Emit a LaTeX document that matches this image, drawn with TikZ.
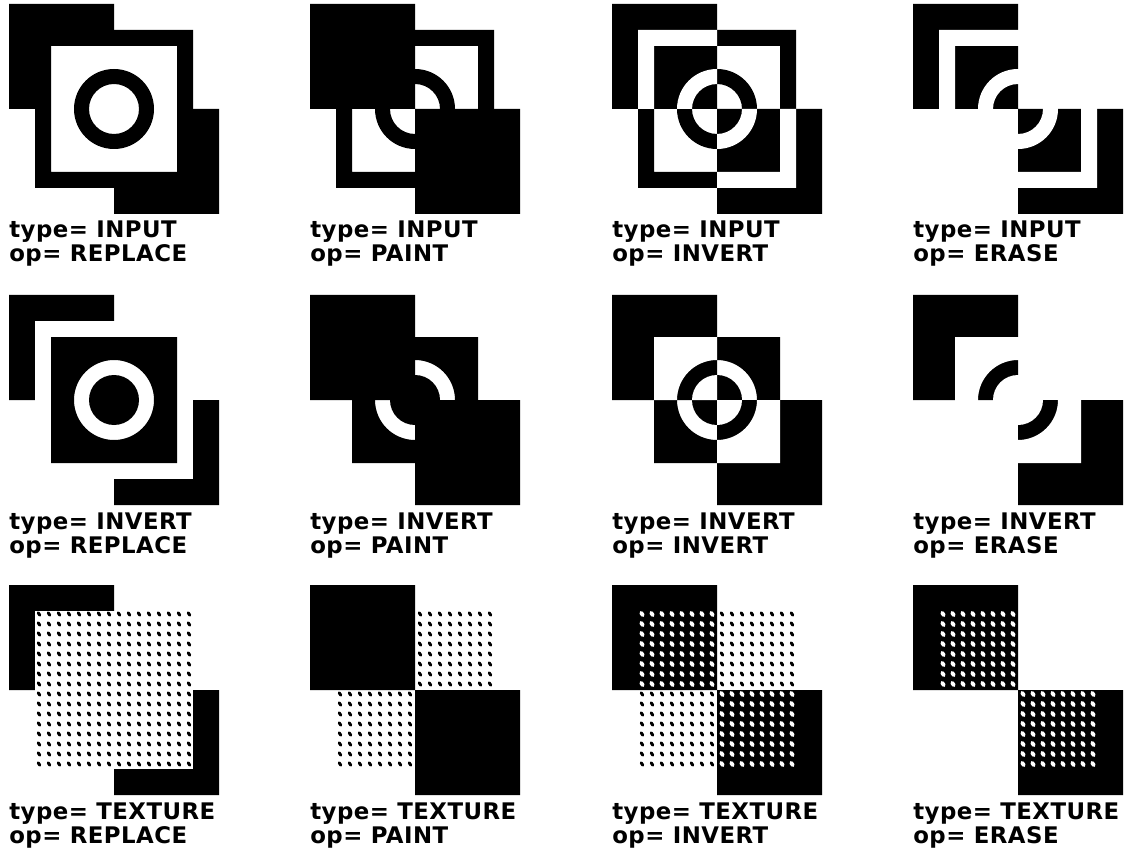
\documentclass[tikz,border=0pt]{standalone}
\usepackage{fontspec}
\newfontfamily\altofont{DejaVu Sans}[LetterSpace=2]
\tikzset{
  ink/.style      = {black},
  paper/.style    = {white},
  inkdot/.style   = {line width=1.7pt},
  paperdot/.style = {line width=2.2pt},
  tag/.style      = {anchor=base west, inner sep=0pt, font=\altofont\bfseries\fontsize{13}{15}\selectfont}
}
% destination: two black squares, origin at its top left corner
\newcommand\destsquares{\fill (0,0) rectangle (105,105) (105,105) rectangle (210,210);}
\newcommand\cliptodest{\clip (0,0) rectangle (105,105) (105,105) rectangle (210,210);}
\newcommand\cliptogap{\clip (105,0) rectangle (210,105) (0,105) rectangle (105,210);}
% sources
\newcommand\srcINPUT[1]{\fill[#1, even odd rule] (26,26) rectangle (184,184) (42,42) rectangle (168,168)
  (105,105) circle[radius=40] (105,105) circle[radius=25];}
\newcommand\srcINVERT[1]{\fill[#1, even odd rule] (42,42) rectangle (168,168)
  (105,105) circle[radius=40] (105,105) circle[radius=25];}
\newcommand\srcTEXTURE[1]{\foreach \i in {0,...,15} \foreach \j in {0,...,15}
  \draw[#1, #1dot, line cap=round] ({30+10*\i},{29+10*\j}) ++(-0.8,-1.2) -- ++(1.6,2.4);}
% operations
\newcommand\opREPLACE[1]{\destsquares \fill[white] (26,26) rectangle (184,184); #1{ink}}
\newcommand\opPAINT[1]{\destsquares #1{ink}}
\newcommand\opINVERT[1]{\destsquares
  \begin{scope}\cliptogap #1{ink}\end{scope}
  \begin{scope}\cliptodest #1{paper}\end{scope}}
\newcommand\opERASE[1]{\destsquares #1{paper}}

\begin{document}
\begin{tikzpicture}[x=0.02cm, y=-0.02cm]
  \fill[white] (0,0) rectangle (1126,851);
  \useasboundingbox (0,0) rectangle (1126,851);

  \foreach \row/\type [count=\r] in {4/INPUT, 295/INVERT, 585/TEXTURE}
    \foreach \col/\op [count=\c] in {9/REPLACE, 310/PAINT, 612/INVERT, 913/ERASE} {
      \begin{scope}[shift={(\col,\row)}]
        \csname op\op\endcsname{\csname src\type\endcsname}
        \node[tag] (type-\r-\c) at (0,234) {type= \type};
        \node[tag] (op-\r-\c)   at (0,258) {op= \op};
      \end{scope}
    }
\end{tikzpicture}
\end{document}
